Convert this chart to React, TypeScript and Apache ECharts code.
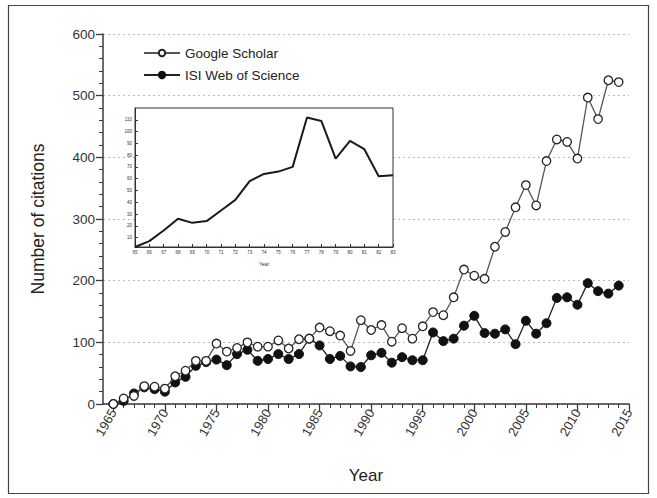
import React, { useEffect, useRef } from 'react';
import * as echarts from 'echarts';

const years = [
  1965, 1966, 1967, 1968, 1969, 1970, 1971, 1972, 1973, 1974,
  1975, 1976, 1977, 1978, 1979, 1980, 1981, 1982, 1983, 1984,
  1985, 1986, 1987, 1988, 1989, 1990, 1991, 1992, 1993, 1994,
  1995, 1996, 1997, 1998, 1999, 2000, 2001, 2002, 2003, 2004,
  2005, 2006, 2007, 2008, 2009, 2010, 2011, 2012, 2013, 2014,
];

const googleScholar = [
  0, 9, 13, 29, 28, 25, 45, 54, 70, 70,
  98, 85, 91, 100, 93, 93, 103, 90, 105, 106,
  124, 118, 111, 86, 136, 120, 128, 101, 123, 106,
  126, 149, 144, 173, 218, 208, 203, 255, 279, 319,
  355, 322, 394, 429, 425, 398, 497, 462, 525, 522,
];

const isiWebOfScience = [
  0, 5, 17, 27, 24, 20, 35, 44, 62, 68,
  72, 63, 81, 88, 70, 73, 81, 73, 81, 106,
  95, 73, 78, 61, 60, 79, 83, 67, 76, 71,
  71, 116, 102, 106, 127, 143, 115, 114, 121, 97,
  135, 114, 131, 172, 173, 161, 196, 183, 179, 192,
];

const xMajorTicks = [1965, 1970, 1975, 1980, 1985, 1990, 1995, 2000, 2005, 2010, 2015];
const xMinorTicks = [
  1965, 1966, 1967, 1968, 1969, 1970, 1971, 1972, 1973, 1974, 1975, 1976, 1977,
  1978, 1979, 1980, 1981, 1982, 1983, 1984, 1985, 1986, 1987, 1988, 1989, 1990,
  1991, 1992, 1993, 1994, 1995, 1996, 1997, 1998, 1999, 2000, 2001, 2002, 2003,
  2004, 2005, 2006, 2007, 2008, 2009, 2010, 2011, 2012, 2013, 2014, 2015,
];

const insetYears = [65, 66, 67, 68, 69, 70, 71, 72, 73, 74, 75, 76, 77, 78, 79, 80, 81, 82, 83];
const insetValues = [2, 7, 16, 26, 22.5, 24, 33, 42, 58, 64, 66, 70, 112, 109, 77, 92, 85, 62, 63];
const insetYTicks = [10, 20, 30, 40, 50, 60, 70, 80, 90, 100, 110];

const FONT = '"Liberation Sans", Arial, Helvetica, sans-serif';
const AX = '#3a3a3a';

export default function App() {
  const ref = useRef<HTMLDivElement>(null);

  useEffect(() => {
    if (!ref.current) return;
    const chart = echarts.init(ref.current, undefined, { renderer: 'svg' });
    const gsData = years.map((y, i) => [y, googleScholar[i]]);
    const isiData = years.map((y, i) => [y, isiWebOfScience[i]]);
    const insetData = insetYears.map((y, i) => [y, insetValues[i]]);

    chart.setOption({
      animation: false,
      backgroundColor: '#fff',
      textStyle: { fontFamily: FONT },
      graphic: [
        {
          type: 'rect',
          shape: { x: 8.5, y: 5.5, width: 640, height: 488 },
          style: { fill: 'none', stroke: '#444', lineWidth: 1.2 },
          silent: true,
        },
      ],
      legend: {
        data: ['Google Scholar', 'ISI Web of Science'],
        orient: 'vertical',
        left: 138,
        top: 41,
        itemWidth: 36,
        itemHeight: 8,
        itemGap: 8,
        textStyle: { fontSize: 13.5, color: '#222', fontFamily: FONT },
      },
      grid: [
        { left: 103, top: 34, width: 526, height: 370 },
        { left: 103, top: 34, width: 526, height: 370 },
        {
          left: 135, top: 108, width: 258, height: 139,
          show: true, backgroundColor: '#fff', borderColor: '#333', borderWidth: 1, z: 3,
        },
      ],
      xAxis: [
        {
          gridIndex: 0,
          type: 'value',
          min: 1964,
          max: 2015,
          axisLine: { show: true, lineStyle: { color: AX, width: 1.5 } },
          axisTick: { show: true, customValues: xMajorTicks, length: 7, lineStyle: { color: AX, width: 1.3 } },
          axisLabel: {
            customValues: xMajorTicks,
            rotate: 60,
            fontSize: 13,
            color: '#333',
            margin: 6,
            formatter: (v: number) => String(v),
          },
          splitLine: { show: false },
          name: 'Year',
          nameLocation: 'middle',
          nameGap: 63,
          nameTextStyle: { fontSize: 17, color: '#222' },
        },
        {
          gridIndex: 1,
          type: 'value',
          min: 1964,
          max: 2015,
          axisLine: { show: false },
          axisTick: { show: true, customValues: xMinorTicks, length: 4, lineStyle: { color: AX, width: 1 } },
          axisLabel: { show: false },
          splitLine: { show: false },
        },
        {
          gridIndex: 2,
          type: 'value',
          min: 65,
          max: 83,
          z: 4,
          axisLine: { show: true, lineStyle: { color: '#333', width: 1 } },
          axisTick: { show: true, inside: true, customValues: insetYears, length: 3, lineStyle: { color: '#333' } },
          axisLabel: { customValues: insetYears, fontSize: 4.5, color: '#333', margin: 3, formatter: (v: number) => String(v) },
          splitLine: { show: false },
          name: 'Year',
          nameLocation: 'middle',
          nameGap: 14,
          nameTextStyle: { fontSize: 5, color: '#333' },
        },
      ],
      yAxis: [
        {
          gridIndex: 0,
          type: 'value',
          min: 0,
          max: 600,
          interval: 100,
          axisLine: { show: true, lineStyle: { color: AX, width: 1.5 } },
          axisTick: { show: true, length: 7, lineStyle: { color: AX, width: 1.3 } },
          minorTick: { show: true, splitNumber: 5, length: 4, lineStyle: { color: AX, width: 1 } },
          axisLabel: { fontSize: 13.5, color: '#333', margin: 8 },
          splitLine: { show: true, lineStyle: { color: '#bbb', type: [2, 3], width: 1 } },
          name: 'Number of citations',
          nameLocation: 'middle',
          nameGap: 56,
          nameRotate: 90,
          nameTextStyle: { fontSize: 17.5, color: '#222' },
        },
        {
          gridIndex: 1,
          type: 'value',
          min: 0,
          max: 600,
          show: false,
        },
        {
          gridIndex: 2,
          type: 'value',
          min: 2,
          max: 120,
          z: 4,
          axisLine: { show: true, lineStyle: { color: '#333', width: 1 } },
          axisTick: { show: true, inside: true, customValues: insetYTicks, length: 3, lineStyle: { color: '#333' } },
          axisLabel: { customValues: insetYTicks, fontSize: 4.5, color: '#333', margin: 3 },
          splitLine: { show: false },
        },
      ],
      series: [
        {
          name: 'ISI Web of Science',
          type: 'line',
          xAxisIndex: 0,
          yAxisIndex: 0,
          data: isiData,
          symbol: 'circle',
          symbolSize: 9,
          itemStyle: { color: '#111', borderColor: '#111', borderWidth: 1 },
          lineStyle: { color: '#222', width: 1.3 },
          z: 2,
        },
        {
          name: 'Google Scholar',
          type: 'line',
          xAxisIndex: 0,
          yAxisIndex: 0,
          data: gsData,
          symbol: 'circle',
          symbolSize: 8.5,
          itemStyle: { color: '#fff', borderColor: '#222', borderWidth: 1.3 },
          lineStyle: { color: '#555', width: 1.3 },
          z: 3,
        },
        {
          name: 'inset',
          type: 'line',
          xAxisIndex: 2,
          yAxisIndex: 2,
          data: insetData,
          showSymbol: false,
          symbol: 'none',
          lineStyle: { color: '#1a1a1a', width: 2 },
          z: 6,
        },
      ],
    });

    return () => chart.dispose();
  }, []);

  return (
    <div
      ref={ref}
      style={{ position: 'fixed', left: 0, top: 0, width: 657, height: 498, background: '#fff' }}
    />
  );
}
